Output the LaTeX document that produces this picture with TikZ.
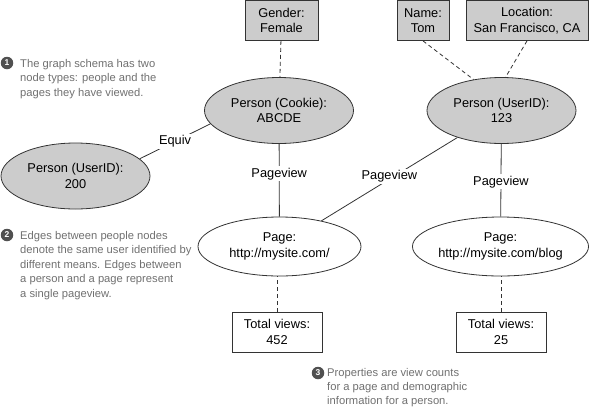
\documentclass[tikz,border=0pt]{standalone}
\usepackage{fontspec}
\setmainfont{Liberation Sans}
\usetikzlibrary{shapes.geometric}
\definecolor{fillgray}{HTML}{CCCCCC}
\definecolor{linegray}{HTML}{333333}
\definecolor{notegray}{HTML}{707070}
\definecolor{bulletgray}{HTML}{505050}
\begin{document}
\begin{tikzpicture}[x=1pt,y=-1pt,
 every node/.style={font=\fontsize{12.8}{15.5}\selectfont, text=black},
 prop/.style={draw=linegray, line width=0.8pt, fill=fillgray, rectangle, align=center, inner sep=0pt, minimum height=40pt},
 countbox/.style={draw=linegray, line width=0.8pt, fill=white, rectangle, align=center, inner sep=0pt, minimum width=90pt, minimum height=40pt},
 person/.style={draw=linegray, line width=0.8pt, fill=fillgray, ellipse, align=center, inner sep=0pt, minimum width=149pt, minimum height=66pt},
 page/.style={draw=linegray, line width=0.8pt, fill=white, ellipse, align=center, inner sep=0pt, minimum height=59pt},
 edge/.style={draw=linegray, line width=0.8pt},
 propedge/.style={draw=linegray, line width=0.8pt, dash pattern=on 4pt off 3pt},
 lbl/.style={fill=white, inner sep=1.5pt},
 note/.style={font=\fontsize{11.2}{14.5}\selectfont, text=notegray, align=left, anchor=base west, inner sep=0pt},
 bullet/.style={circle, fill=bulletgray, text=white, inner sep=0pt, minimum size=12.5pt, font=\fontsize{8.5}{8.5}\bfseries\selectfont}
]
\useasboundingbox (0,0) rectangle (590,408);

% property boxes
\node[prop, minimum width=73pt] (gender) at (281.5,20.5) {Gender:\\Female};
\node[prop, minimum width=52pt] (name) at (423,20.5) {Name:\\Tom};
\node[prop, minimum width=122pt] (loc) at (527,20.5) {Location:\\San Francisco, CA};

% person nodes
\node[person] (cookie) at (279,110.5) {Person (Cookie):\\ABCDE};
\node[person] (p123) at (501.5,110.5) {Person (UserID):\\123};
\node[person] (p200) at (75.5,176) {Person (UserID):\\200};

% page nodes
\node[page, minimum width=163pt] (page1) at (279.5,246.5) {Page:\\http://mysite.com/};
\node[page, minimum width=175pt] (blog) at (500.5,246.5) {Page:\\http://mysite.com/blog};

% count boxes
\node[countbox] (tot1) at (277,332) {Total views:\\452};
\node[countbox] (tot2) at (501,332) {Total views:\\25};

% edges
\draw[edge] (p200.15) -- node[lbl]{Equiv} (cookie.191);
\draw[edge] (cookie) -- node[lbl,pos=0.41]{Pageview} (page1);
\draw[edge] (p123) -- node[lbl,yshift=3pt]{Pageview} (page1);
\draw[edge] (p123) -- node[lbl,pos=0.52]{Pageview} (blog);

% property edges
\draw[propedge] (gender) -- (cookie);
\draw[propedge] (name.south) -- (p123.132);
\draw[propedge] (loc.south) -- (p123.83);
\draw[propedge] (tot1.north) -- (tot1.north |- page1.south);
\draw[propedge] (tot2.north) -- (tot2.north |- blog.south);

% annotations (anchored at the baseline of the last line)
\node[bullet] (b1) at (7,63) {1};
\node[note] (n1) at (20,96) {The graph schema has two\\node types: people and the\\pages they have viewed.};
\node[bullet] (b2) at (7,235) {2};
\node[note] (n2) at (20,297) {Edges between people nodes\\denote the same user identified by\\different means. Edges between\\a person and a page represent\\a single pageview.};
\node[bullet] (b3) at (318,373) {3};
\node[note, font=\fontsize{11.2}{13.8}\selectfont] (n3) at (327,404) {Properties are view counts\\for a page and demographic\\information for a person.};
\end{tikzpicture}
\end{document}
